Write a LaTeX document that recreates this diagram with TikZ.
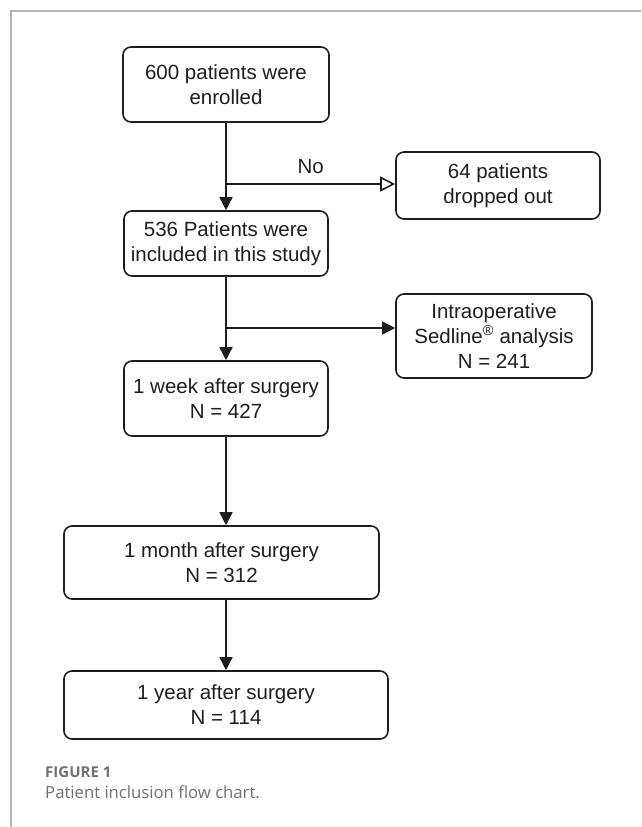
\documentclass[tikz,border=0pt]{standalone}
\usepackage{fontspec}
\setmainfont{Liberation Sans}
\newfontfamily\capfont{Open Sans}
\usetikzlibrary{arrows.meta}
\definecolor{frame}{HTML}{B4B4B4}
\definecolor{ink}{HTML}{1E1E1E}
\definecolor{capgray}{HTML}{707070}
\tikzset{
  flowbox/.style={draw=ink, line width=1.6pt, rounded corners=8pt, align=center,
    inner sep=0pt, text=ink, font=\fontsize{20.5}{25}\selectfont},
  flowarrow/.style={draw=ink, line width=1.6pt, -{Triangle[length=13pt,width=13pt]}},
  openarrow/.style={draw=ink, line width=1.6pt, -{Triangle[open,length=15pt,width=15pt,line width=1.6pt]}},
}
\begin{document}
\begin{tikzpicture}[x=1pt,y=-1pt]
\useasboundingbox (0,0) rectangle (641,827);
\draw[frame, line width=1.6pt] (11,827) -- (11,11) -- (641,11);

\node[flowbox, minimum width=206pt, minimum height=75pt] (enrol) at (226,84.5) {600 patients were\\enrolled};
\node[flowbox, minimum width=204pt, minimum height=65pt] (incl) at (226,243.5) {536 Patients were\\included in this study};
\node[flowbox, minimum width=204pt, minimum height=67pt] (drop) at (498,185.5) {64 patients\\dropped out};
\node[flowbox, minimum width=196pt, minimum height=84pt] (intra) at (494,336) {Intraoperative\\Sedline\textsuperscript{®} analysis\\N = 241};
\node[flowbox, minimum width=204pt, minimum height=75pt] (week) at (226,398.5) {1 week after surgery\\N = 427};
\node[flowbox, minimum width=315pt, minimum height=73pt] (month) at (221.5,562.5) {1 month after surgery\\N = 312};
\node[flowbox, minimum width=324pt, minimum height=68pt] (year) at (226,705) {1 year after surgery\\N = 114};

\coordinate (b1) at (226,184);
\coordinate (b2) at (226,328);

\draw[flowarrow] (enrol.south) -- (incl.north);
\draw[openarrow] (b1) -- (b1 -| drop.west) node[midway, above=6pt, text=ink, font=\fontsize{20.5}{25}\selectfont] (no) {No};
\draw[flowarrow] (incl.south) -- (week.north);
\draw[flowarrow] (b2) -- (b2 -| intra.west);
\draw[flowarrow] (week.south) -- (week.south |- month.north);
\draw[flowarrow] (year.north |- month.south) -- (year.north);

\node[anchor=base west, inner sep=0pt, text=capgray, font=\capfont\bfseries\fontsize{15}{17}\selectfont] (figlab) at (45,777) {FIGURE 1};
\node[anchor=base west, inner sep=0pt, text=capgray, font=\capfont\fontsize{16.7}{19}\selectfont] (figcap) at (45,798) {Patient inclusion flow chart.};
\end{tikzpicture}
\end{document}
